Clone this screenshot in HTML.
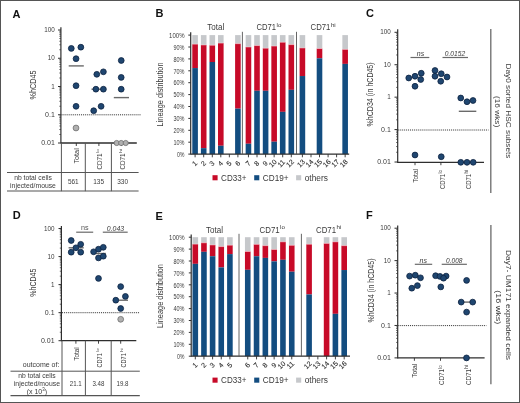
<!DOCTYPE html>
<html><head><meta charset="utf-8"><style>
html,body{margin:0;padding:0;background:#fff;overflow:hidden;}
svg{display:block;font-family:"Liberation Sans", sans-serif;will-change:transform;}
</style></head><body>
<svg width="520" height="403" viewBox="0 0 520 403">
<rect width="520" height="403" fill="#fff"/>
<rect x="0.5" y="0.5" width="519" height="402" fill="none" stroke="#555" stroke-width="1"/>
<text x="12.50" y="17.60" font-size="11" text-anchor="start" fill="#111" font-weight="bold">A</text>
<text x="155.40" y="17.40" font-size="11" text-anchor="start" fill="#111" font-weight="bold">B</text>
<text x="366.00" y="17.40" font-size="11" text-anchor="start" fill="#111" font-weight="bold">C</text>
<text x="12.80" y="219.30" font-size="11" text-anchor="start" fill="#111" font-weight="bold">D</text>
<text x="155.40" y="219.50" font-size="11" text-anchor="start" fill="#111" font-weight="bold">E</text>
<text x="366.00" y="219.00" font-size="11" text-anchor="start" fill="#111" font-weight="bold">F</text>
<line x1="60.90" y1="27.30" x2="60.90" y2="143.60" stroke="#2e2e2e" stroke-width="1.2" />
<line x1="58.00" y1="30.00" x2="60.90" y2="30.00" stroke="#2e2e2e" stroke-width="1" />
<text x="54.80" y="32.17" font-size="7" text-anchor="end" fill="#3a3a3a" textLength="10.5" lengthAdjust="spacingAndGlyphs">100</text>
<line x1="58.00" y1="58.25" x2="60.90" y2="58.25" stroke="#2e2e2e" stroke-width="1" />
<text x="54.80" y="60.42" font-size="7" text-anchor="end" fill="#3a3a3a" textLength="7.0" lengthAdjust="spacingAndGlyphs">10</text>
<line x1="58.00" y1="86.50" x2="60.90" y2="86.50" stroke="#2e2e2e" stroke-width="1" />
<text x="54.80" y="88.67" font-size="7" text-anchor="end" fill="#3a3a3a" textLength="3.5" lengthAdjust="spacingAndGlyphs">1</text>
<line x1="58.00" y1="114.75" x2="60.90" y2="114.75" stroke="#2e2e2e" stroke-width="1" />
<text x="54.80" y="116.92" font-size="7" text-anchor="end" fill="#3a3a3a">0.1</text>
<line x1="58.00" y1="143.00" x2="60.90" y2="143.00" stroke="#2e2e2e" stroke-width="1" />
<text x="54.80" y="145.17" font-size="7" text-anchor="end" fill="#3a3a3a">0.01</text>
<line x1="59.30" y1="49.75" x2="60.90" y2="49.75" stroke="#2e2e2e" stroke-width="0.7" />
<line x1="59.30" y1="44.77" x2="60.90" y2="44.77" stroke="#2e2e2e" stroke-width="0.7" />
<line x1="59.30" y1="41.24" x2="60.90" y2="41.24" stroke="#2e2e2e" stroke-width="0.7" />
<line x1="59.30" y1="38.50" x2="60.90" y2="38.50" stroke="#2e2e2e" stroke-width="0.7" />
<line x1="59.30" y1="36.27" x2="60.90" y2="36.27" stroke="#2e2e2e" stroke-width="0.7" />
<line x1="59.30" y1="34.38" x2="60.90" y2="34.38" stroke="#2e2e2e" stroke-width="0.7" />
<line x1="59.30" y1="32.74" x2="60.90" y2="32.74" stroke="#2e2e2e" stroke-width="0.7" />
<line x1="59.30" y1="31.29" x2="60.90" y2="31.29" stroke="#2e2e2e" stroke-width="0.7" />
<line x1="59.30" y1="78.00" x2="60.90" y2="78.00" stroke="#2e2e2e" stroke-width="0.7" />
<line x1="59.30" y1="73.02" x2="60.90" y2="73.02" stroke="#2e2e2e" stroke-width="0.7" />
<line x1="59.30" y1="69.49" x2="60.90" y2="69.49" stroke="#2e2e2e" stroke-width="0.7" />
<line x1="59.30" y1="66.75" x2="60.90" y2="66.75" stroke="#2e2e2e" stroke-width="0.7" />
<line x1="59.30" y1="64.52" x2="60.90" y2="64.52" stroke="#2e2e2e" stroke-width="0.7" />
<line x1="59.30" y1="62.63" x2="60.90" y2="62.63" stroke="#2e2e2e" stroke-width="0.7" />
<line x1="59.30" y1="60.99" x2="60.90" y2="60.99" stroke="#2e2e2e" stroke-width="0.7" />
<line x1="59.30" y1="59.54" x2="60.90" y2="59.54" stroke="#2e2e2e" stroke-width="0.7" />
<line x1="59.30" y1="106.25" x2="60.90" y2="106.25" stroke="#2e2e2e" stroke-width="0.7" />
<line x1="59.30" y1="101.27" x2="60.90" y2="101.27" stroke="#2e2e2e" stroke-width="0.7" />
<line x1="59.30" y1="97.74" x2="60.90" y2="97.74" stroke="#2e2e2e" stroke-width="0.7" />
<line x1="59.30" y1="95.00" x2="60.90" y2="95.00" stroke="#2e2e2e" stroke-width="0.7" />
<line x1="59.30" y1="92.77" x2="60.90" y2="92.77" stroke="#2e2e2e" stroke-width="0.7" />
<line x1="59.30" y1="90.88" x2="60.90" y2="90.88" stroke="#2e2e2e" stroke-width="0.7" />
<line x1="59.30" y1="89.24" x2="60.90" y2="89.24" stroke="#2e2e2e" stroke-width="0.7" />
<line x1="59.30" y1="87.79" x2="60.90" y2="87.79" stroke="#2e2e2e" stroke-width="0.7" />
<line x1="59.30" y1="134.50" x2="60.90" y2="134.50" stroke="#2e2e2e" stroke-width="0.7" />
<line x1="59.30" y1="129.52" x2="60.90" y2="129.52" stroke="#2e2e2e" stroke-width="0.7" />
<line x1="59.30" y1="125.99" x2="60.90" y2="125.99" stroke="#2e2e2e" stroke-width="0.7" />
<line x1="59.30" y1="123.25" x2="60.90" y2="123.25" stroke="#2e2e2e" stroke-width="0.7" />
<line x1="59.30" y1="121.02" x2="60.90" y2="121.02" stroke="#2e2e2e" stroke-width="0.7" />
<line x1="59.30" y1="119.13" x2="60.90" y2="119.13" stroke="#2e2e2e" stroke-width="0.7" />
<line x1="59.30" y1="117.49" x2="60.90" y2="117.49" stroke="#2e2e2e" stroke-width="0.7" />
<line x1="59.30" y1="116.04" x2="60.90" y2="116.04" stroke="#2e2e2e" stroke-width="0.7" />
<line x1="60.90" y1="143.00" x2="136.80" y2="143.00" stroke="#2e2e2e" stroke-width="1.3" />
<line x1="61.50" y1="114.80" x2="141.20" y2="114.80" stroke="#333" stroke-width="1" stroke-dasharray="1 0.95"/>
<line x1="76.30" y1="143.00" x2="76.30" y2="146.00" stroke="#2e2e2e" stroke-width="0.9" />
<line x1="98.90" y1="143.00" x2="98.90" y2="146.00" stroke="#2e2e2e" stroke-width="0.9" />
<line x1="121.50" y1="143.00" x2="121.50" y2="146.00" stroke="#2e2e2e" stroke-width="0.9" />
<line x1="61.40" y1="143.00" x2="61.40" y2="191.20" stroke="#555" stroke-width="1" />
<line x1="85.30" y1="143.00" x2="85.30" y2="191.20" stroke="#555" stroke-width="1" />
<line x1="111.40" y1="143.00" x2="111.40" y2="191.20" stroke="#555" stroke-width="1" />
<line x1="7.00" y1="172.50" x2="138.60" y2="172.50" stroke="#555" stroke-width="1" />
<line x1="7.00" y1="191.00" x2="138.60" y2="191.00" stroke="#555" stroke-width="1.2" />
<text x="33.00" y="180.00" font-size="7.6" text-anchor="middle" fill="#3a3a3a" textLength="37.6" lengthAdjust="spacingAndGlyphs">nb total cells</text>
<text x="33.00" y="187.80" font-size="7.6" text-anchor="middle" fill="#3a3a3a" textLength="45.8" lengthAdjust="spacingAndGlyphs">injected/mouse</text>
<text x="73.30" y="184.00" font-size="7.6" text-anchor="middle" fill="#3a3a3a" textLength="10.8" lengthAdjust="spacingAndGlyphs">561</text>
<text x="98.60" y="184.00" font-size="7.6" text-anchor="middle" fill="#3a3a3a" textLength="10.8" lengthAdjust="spacingAndGlyphs">135</text>
<text x="122.60" y="184.00" font-size="7.6" text-anchor="middle" fill="#3a3a3a" textLength="10.8" lengthAdjust="spacingAndGlyphs">330</text>
<text x="79.28" y="148.20" font-size="8" text-anchor="end" fill="#3a3a3a" textLength="15.4" lengthAdjust="spacingAndGlyphs" transform="rotate(-90 79.28 148.20)">Total</text>
<text x="101.88" y="169.60" font-size="8" text-anchor="start" fill="#3a3a3a" textLength="16.0" lengthAdjust="spacingAndGlyphs" transform="rotate(-90 101.88 169.60)">CD71</text>
<text x="98.84" y="152.80" font-size="4.40" text-anchor="start" fill="#3a3a3a" transform="rotate(-90 98.84 152.80)">lo</text>
<text x="124.78" y="169.60" font-size="8" text-anchor="start" fill="#3a3a3a" textLength="16.0" lengthAdjust="spacingAndGlyphs" transform="rotate(-90 124.78 169.60)">CD71</text>
<text x="121.74" y="152.80" font-size="4.40" text-anchor="start" fill="#3a3a3a" transform="rotate(-90 121.74 152.80)">hi</text>
<text x="36.00" y="85.00" font-size="9.4" text-anchor="middle" fill="#3a3a3a" textLength="29" lengthAdjust="spacingAndGlyphs" transform="rotate(-90 36.00 85.00)">%hCD45</text>
<line x1="68.70" y1="65.90" x2="83.80" y2="65.90" stroke="#6a6a6a" stroke-width="1.4" />
<line x1="91.50" y1="89.20" x2="105.50" y2="89.20" stroke="#6a6a6a" stroke-width="1.4" />
<line x1="113.80" y1="97.60" x2="129.00" y2="97.60" stroke="#6a6a6a" stroke-width="1.4" />
<circle cx="71.30" cy="48.40" r="2.9" fill="#1f4670" stroke="#0c2240" stroke-width="0.8"/>
<circle cx="80.85" cy="47.20" r="2.9" fill="#1f4670" stroke="#0c2240" stroke-width="0.8"/>
<circle cx="76.05" cy="58.70" r="2.9" fill="#1f4670" stroke="#0c2240" stroke-width="0.8"/>
<circle cx="76.05" cy="85.70" r="2.9" fill="#1f4670" stroke="#0c2240" stroke-width="0.8"/>
<circle cx="76.05" cy="106.30" r="2.9" fill="#1f4670" stroke="#0c2240" stroke-width="0.8"/>
<circle cx="76.00" cy="128.00" r="2.9" fill="#b0b0b0" stroke="#6f6f6f" stroke-width="0.8"/>
<circle cx="96.80" cy="74.30" r="2.9" fill="#1f4670" stroke="#0c2240" stroke-width="0.8"/>
<circle cx="103.40" cy="71.80" r="2.9" fill="#1f4670" stroke="#0c2240" stroke-width="0.8"/>
<circle cx="95.90" cy="89.20" r="2.9" fill="#1f4670" stroke="#0c2240" stroke-width="0.8"/>
<circle cx="103.40" cy="89.20" r="2.9" fill="#1f4670" stroke="#0c2240" stroke-width="0.8"/>
<circle cx="101.10" cy="106.30" r="2.9" fill="#1f4670" stroke="#0c2240" stroke-width="0.8"/>
<circle cx="93.70" cy="110.70" r="2.9" fill="#1f4670" stroke="#0c2240" stroke-width="0.8"/>
<circle cx="121.25" cy="60.50" r="2.9" fill="#1f4670" stroke="#0c2240" stroke-width="0.8"/>
<circle cx="121.20" cy="77.40" r="2.9" fill="#1f4670" stroke="#0c2240" stroke-width="0.8"/>
<circle cx="121.20" cy="89.20" r="2.9" fill="#1f4670" stroke="#0c2240" stroke-width="0.8"/>
<circle cx="116.70" cy="143.00" r="2.6" fill="#b0b0b0" stroke="#6f6f6f" stroke-width="0.8"/>
<circle cx="121.20" cy="143.00" r="2.6" fill="#b0b0b0" stroke="#6f6f6f" stroke-width="0.8"/>
<circle cx="125.70" cy="143.00" r="2.6" fill="#b0b0b0" stroke="#6f6f6f" stroke-width="0.8"/>
<line x1="61.40" y1="226.00" x2="61.40" y2="341.20" stroke="#2e2e2e" stroke-width="1.2" />
<line x1="58.50" y1="228.50" x2="61.40" y2="228.50" stroke="#2e2e2e" stroke-width="1" />
<text x="54.60" y="230.67" font-size="7" text-anchor="end" fill="#3a3a3a" textLength="10.5" lengthAdjust="spacingAndGlyphs">100</text>
<line x1="58.50" y1="256.55" x2="61.40" y2="256.55" stroke="#2e2e2e" stroke-width="1" />
<text x="54.60" y="258.72" font-size="7" text-anchor="end" fill="#3a3a3a" textLength="7.0" lengthAdjust="spacingAndGlyphs">10</text>
<line x1="58.50" y1="284.60" x2="61.40" y2="284.60" stroke="#2e2e2e" stroke-width="1" />
<text x="54.60" y="286.77" font-size="7" text-anchor="end" fill="#3a3a3a" textLength="3.5" lengthAdjust="spacingAndGlyphs">1</text>
<line x1="58.50" y1="312.65" x2="61.40" y2="312.65" stroke="#2e2e2e" stroke-width="1" />
<text x="54.60" y="314.82" font-size="7" text-anchor="end" fill="#3a3a3a">0.1</text>
<line x1="58.50" y1="340.70" x2="61.40" y2="340.70" stroke="#2e2e2e" stroke-width="1" />
<text x="54.60" y="342.87" font-size="7" text-anchor="end" fill="#3a3a3a">0.01</text>
<line x1="59.80" y1="248.11" x2="61.40" y2="248.11" stroke="#2e2e2e" stroke-width="0.7" />
<line x1="59.80" y1="243.17" x2="61.40" y2="243.17" stroke="#2e2e2e" stroke-width="0.7" />
<line x1="59.80" y1="239.66" x2="61.40" y2="239.66" stroke="#2e2e2e" stroke-width="0.7" />
<line x1="59.80" y1="236.94" x2="61.40" y2="236.94" stroke="#2e2e2e" stroke-width="0.7" />
<line x1="59.80" y1="234.72" x2="61.40" y2="234.72" stroke="#2e2e2e" stroke-width="0.7" />
<line x1="59.80" y1="232.84" x2="61.40" y2="232.84" stroke="#2e2e2e" stroke-width="0.7" />
<line x1="59.80" y1="231.22" x2="61.40" y2="231.22" stroke="#2e2e2e" stroke-width="0.7" />
<line x1="59.80" y1="229.78" x2="61.40" y2="229.78" stroke="#2e2e2e" stroke-width="0.7" />
<line x1="59.80" y1="276.16" x2="61.40" y2="276.16" stroke="#2e2e2e" stroke-width="0.7" />
<line x1="59.80" y1="271.22" x2="61.40" y2="271.22" stroke="#2e2e2e" stroke-width="0.7" />
<line x1="59.80" y1="267.71" x2="61.40" y2="267.71" stroke="#2e2e2e" stroke-width="0.7" />
<line x1="59.80" y1="264.99" x2="61.40" y2="264.99" stroke="#2e2e2e" stroke-width="0.7" />
<line x1="59.80" y1="262.77" x2="61.40" y2="262.77" stroke="#2e2e2e" stroke-width="0.7" />
<line x1="59.80" y1="260.89" x2="61.40" y2="260.89" stroke="#2e2e2e" stroke-width="0.7" />
<line x1="59.80" y1="259.27" x2="61.40" y2="259.27" stroke="#2e2e2e" stroke-width="0.7" />
<line x1="59.80" y1="257.83" x2="61.40" y2="257.83" stroke="#2e2e2e" stroke-width="0.7" />
<line x1="59.80" y1="304.21" x2="61.40" y2="304.21" stroke="#2e2e2e" stroke-width="0.7" />
<line x1="59.80" y1="299.27" x2="61.40" y2="299.27" stroke="#2e2e2e" stroke-width="0.7" />
<line x1="59.80" y1="295.76" x2="61.40" y2="295.76" stroke="#2e2e2e" stroke-width="0.7" />
<line x1="59.80" y1="293.04" x2="61.40" y2="293.04" stroke="#2e2e2e" stroke-width="0.7" />
<line x1="59.80" y1="290.82" x2="61.40" y2="290.82" stroke="#2e2e2e" stroke-width="0.7" />
<line x1="59.80" y1="288.94" x2="61.40" y2="288.94" stroke="#2e2e2e" stroke-width="0.7" />
<line x1="59.80" y1="287.32" x2="61.40" y2="287.32" stroke="#2e2e2e" stroke-width="0.7" />
<line x1="59.80" y1="285.88" x2="61.40" y2="285.88" stroke="#2e2e2e" stroke-width="0.7" />
<line x1="59.80" y1="332.26" x2="61.40" y2="332.26" stroke="#2e2e2e" stroke-width="0.7" />
<line x1="59.80" y1="327.32" x2="61.40" y2="327.32" stroke="#2e2e2e" stroke-width="0.7" />
<line x1="59.80" y1="323.81" x2="61.40" y2="323.81" stroke="#2e2e2e" stroke-width="0.7" />
<line x1="59.80" y1="321.09" x2="61.40" y2="321.09" stroke="#2e2e2e" stroke-width="0.7" />
<line x1="59.80" y1="318.87" x2="61.40" y2="318.87" stroke="#2e2e2e" stroke-width="0.7" />
<line x1="59.80" y1="316.99" x2="61.40" y2="316.99" stroke="#2e2e2e" stroke-width="0.7" />
<line x1="59.80" y1="315.37" x2="61.40" y2="315.37" stroke="#2e2e2e" stroke-width="0.7" />
<line x1="59.80" y1="313.93" x2="61.40" y2="313.93" stroke="#2e2e2e" stroke-width="0.7" />
<line x1="61.40" y1="340.70" x2="136.30" y2="340.70" stroke="#2e2e2e" stroke-width="1.3" />
<line x1="62.00" y1="312.70" x2="139.60" y2="312.70" stroke="#333" stroke-width="1" stroke-dasharray="1 0.95"/>
<line x1="75.90" y1="340.70" x2="75.90" y2="343.70" stroke="#2e2e2e" stroke-width="0.9" />
<line x1="98.50" y1="340.70" x2="98.50" y2="343.70" stroke="#2e2e2e" stroke-width="0.9" />
<line x1="120.70" y1="340.70" x2="120.70" y2="343.70" stroke="#2e2e2e" stroke-width="0.9" />
<line x1="62.00" y1="340.70" x2="62.00" y2="396.00" stroke="#555" stroke-width="1" />
<line x1="85.40" y1="340.70" x2="85.40" y2="396.00" stroke="#555" stroke-width="1" />
<line x1="111.20" y1="340.70" x2="111.20" y2="396.00" stroke="#555" stroke-width="1" />
<line x1="10.50" y1="371.20" x2="139.80" y2="371.20" stroke="#555" stroke-width="1" />
<line x1="10.50" y1="395.70" x2="139.80" y2="395.70" stroke="#555" stroke-width="1.2" />
<text x="59.40" y="366.50" font-size="7.6" text-anchor="end" fill="#3a3a3a" textLength="36.6" lengthAdjust="spacingAndGlyphs">outcome of:</text>
<text x="37.00" y="378.40" font-size="7.6" text-anchor="middle" fill="#3a3a3a" textLength="37.5" lengthAdjust="spacingAndGlyphs">nb total cells</text>
<text x="36.90" y="386.30" font-size="7.6" text-anchor="middle" fill="#3a3a3a" textLength="46.1" lengthAdjust="spacingAndGlyphs">injected/mouse</text>
<text x="36.90" y="393.90" font-size="7" text-anchor="middle" fill="#3a3a3a">(x 10<tspan font-size="4.5" dy="-2.5">3</tspan><tspan dy="2.5">)</tspan></text>
<text x="75.80" y="385.80" font-size="7.6" text-anchor="middle" fill="#3a3a3a" textLength="12" lengthAdjust="spacingAndGlyphs">21.1</text>
<text x="98.40" y="385.80" font-size="7.6" text-anchor="middle" fill="#3a3a3a" textLength="12" lengthAdjust="spacingAndGlyphs">3.48</text>
<text x="122.50" y="385.80" font-size="7.6" text-anchor="middle" fill="#3a3a3a" textLength="12" lengthAdjust="spacingAndGlyphs">19.8</text>
<text x="78.68" y="347.20" font-size="8" text-anchor="end" fill="#3a3a3a" textLength="13.6" lengthAdjust="spacingAndGlyphs" transform="rotate(-90 78.68 347.20)">Total</text>
<text x="102.18" y="367.50" font-size="8" text-anchor="start" fill="#3a3a3a" textLength="14.300000000000011" lengthAdjust="spacingAndGlyphs" transform="rotate(-90 102.18 367.50)">CD71</text>
<text x="99.14" y="351.70" font-size="4.16" text-anchor="start" fill="#3a3a3a" transform="rotate(-90 99.14 351.70)">lo</text>
<text x="125.68" y="367.50" font-size="8" text-anchor="start" fill="#3a3a3a" textLength="14.300000000000011" lengthAdjust="spacingAndGlyphs" transform="rotate(-90 125.68 367.50)">CD71</text>
<text x="122.64" y="351.70" font-size="4.16" text-anchor="start" fill="#3a3a3a" transform="rotate(-90 122.64 351.70)">hi</text>
<text x="36.20" y="282.70" font-size="9.4" text-anchor="middle" fill="#3a3a3a" textLength="28" lengthAdjust="spacingAndGlyphs" transform="rotate(-90 36.20 282.70)">%hCD45</text>
<text x="84.90" y="230.40" font-size="7.2" text-anchor="middle" fill="#555">ns</text>
<line x1="76.20" y1="232.20" x2="93.20" y2="232.20" stroke="#6a6a6a" stroke-width="1.2" />
<text x="115.50" y="230.60" font-size="7" text-anchor="middle" fill="#3a3a3a" textLength="17.4" lengthAdjust="spacingAndGlyphs" style="font-style:italic">0.043</text>
<line x1="102.80" y1="232.20" x2="127.70" y2="232.20" stroke="#6a6a6a" stroke-width="1.2" />
<line x1="68.60" y1="247.80" x2="83.70" y2="247.80" stroke="#6a6a6a" stroke-width="1.4" />
<line x1="95.80" y1="253.50" x2="105.90" y2="253.50" stroke="#6a6a6a" stroke-width="1.4" />
<line x1="118.40" y1="300.20" x2="128.00" y2="300.20" stroke="#6a6a6a" stroke-width="1.4" />
<circle cx="71.20" cy="240.50" r="2.9" fill="#1f4670" stroke="#0c2240" stroke-width="0.8"/>
<circle cx="80.70" cy="244.30" r="2.9" fill="#1f4670" stroke="#0c2240" stroke-width="0.8"/>
<circle cx="75.90" cy="247.80" r="2.9" fill="#1f4670" stroke="#0c2240" stroke-width="0.8"/>
<circle cx="71.20" cy="252.20" r="2.9" fill="#1f4670" stroke="#0c2240" stroke-width="0.8"/>
<circle cx="80.70" cy="252.20" r="2.9" fill="#1f4670" stroke="#0c2240" stroke-width="0.8"/>
<circle cx="93.60" cy="251.80" r="2.9" fill="#1f4670" stroke="#0c2240" stroke-width="0.8"/>
<circle cx="98.50" cy="249.20" r="2.9" fill="#1f4670" stroke="#0c2240" stroke-width="0.8"/>
<circle cx="103.30" cy="247.30" r="2.9" fill="#1f4670" stroke="#0c2240" stroke-width="0.8"/>
<circle cx="98.50" cy="257.90" r="2.9" fill="#1f4670" stroke="#0c2240" stroke-width="0.8"/>
<circle cx="103.30" cy="256.20" r="2.9" fill="#1f4670" stroke="#0c2240" stroke-width="0.8"/>
<circle cx="98.50" cy="278.40" r="2.9" fill="#1f4670" stroke="#0c2240" stroke-width="0.8"/>
<circle cx="120.70" cy="286.60" r="2.9" fill="#1f4670" stroke="#0c2240" stroke-width="0.8"/>
<circle cx="125.40" cy="296.40" r="2.9" fill="#1f4670" stroke="#0c2240" stroke-width="0.8"/>
<circle cx="115.80" cy="300.20" r="2.9" fill="#1f4670" stroke="#0c2240" stroke-width="0.8"/>
<circle cx="120.70" cy="308.50" r="2.9" fill="#1f4670" stroke="#0c2240" stroke-width="0.8"/>
<circle cx="120.70" cy="319.30" r="2.9" fill="#b0b0b0" stroke="#6f6f6f" stroke-width="0.8"/>
<line x1="397.70" y1="29.20" x2="397.70" y2="162.90" stroke="#2e2e2e" stroke-width="1.2" />
<line x1="394.50" y1="32.30" x2="397.70" y2="32.30" stroke="#2e2e2e" stroke-width="1" />
<text x="390.80" y="34.47" font-size="7" text-anchor="end" fill="#3a3a3a" textLength="10.5" lengthAdjust="spacingAndGlyphs">100</text>
<line x1="394.50" y1="64.73" x2="397.70" y2="64.73" stroke="#2e2e2e" stroke-width="1" />
<text x="390.80" y="66.90" font-size="7" text-anchor="end" fill="#3a3a3a" textLength="7.0" lengthAdjust="spacingAndGlyphs">10</text>
<line x1="394.50" y1="97.16" x2="397.70" y2="97.16" stroke="#2e2e2e" stroke-width="1" />
<text x="390.80" y="99.33" font-size="7" text-anchor="end" fill="#3a3a3a" textLength="3.5" lengthAdjust="spacingAndGlyphs">1</text>
<line x1="394.50" y1="129.59" x2="397.70" y2="129.59" stroke="#2e2e2e" stroke-width="1" />
<text x="390.80" y="131.76" font-size="7" text-anchor="end" fill="#3a3a3a">0.1</text>
<line x1="394.50" y1="162.02" x2="397.70" y2="162.02" stroke="#2e2e2e" stroke-width="1" />
<text x="390.80" y="164.19" font-size="7" text-anchor="end" fill="#3a3a3a">0.01</text>
<line x1="396.10" y1="54.97" x2="397.70" y2="54.97" stroke="#2e2e2e" stroke-width="0.7" />
<line x1="396.10" y1="49.26" x2="397.70" y2="49.26" stroke="#2e2e2e" stroke-width="0.7" />
<line x1="396.10" y1="45.21" x2="397.70" y2="45.21" stroke="#2e2e2e" stroke-width="0.7" />
<line x1="396.10" y1="42.06" x2="397.70" y2="42.06" stroke="#2e2e2e" stroke-width="0.7" />
<line x1="396.10" y1="39.49" x2="397.70" y2="39.49" stroke="#2e2e2e" stroke-width="0.7" />
<line x1="396.10" y1="37.32" x2="397.70" y2="37.32" stroke="#2e2e2e" stroke-width="0.7" />
<line x1="396.10" y1="35.44" x2="397.70" y2="35.44" stroke="#2e2e2e" stroke-width="0.7" />
<line x1="396.10" y1="33.78" x2="397.70" y2="33.78" stroke="#2e2e2e" stroke-width="0.7" />
<line x1="396.10" y1="87.40" x2="397.70" y2="87.40" stroke="#2e2e2e" stroke-width="0.7" />
<line x1="396.10" y1="81.69" x2="397.70" y2="81.69" stroke="#2e2e2e" stroke-width="0.7" />
<line x1="396.10" y1="77.64" x2="397.70" y2="77.64" stroke="#2e2e2e" stroke-width="0.7" />
<line x1="396.10" y1="74.49" x2="397.70" y2="74.49" stroke="#2e2e2e" stroke-width="0.7" />
<line x1="396.10" y1="71.92" x2="397.70" y2="71.92" stroke="#2e2e2e" stroke-width="0.7" />
<line x1="396.10" y1="69.75" x2="397.70" y2="69.75" stroke="#2e2e2e" stroke-width="0.7" />
<line x1="396.10" y1="67.87" x2="397.70" y2="67.87" stroke="#2e2e2e" stroke-width="0.7" />
<line x1="396.10" y1="66.21" x2="397.70" y2="66.21" stroke="#2e2e2e" stroke-width="0.7" />
<line x1="396.10" y1="119.83" x2="397.70" y2="119.83" stroke="#2e2e2e" stroke-width="0.7" />
<line x1="396.10" y1="114.12" x2="397.70" y2="114.12" stroke="#2e2e2e" stroke-width="0.7" />
<line x1="396.10" y1="110.07" x2="397.70" y2="110.07" stroke="#2e2e2e" stroke-width="0.7" />
<line x1="396.10" y1="106.92" x2="397.70" y2="106.92" stroke="#2e2e2e" stroke-width="0.7" />
<line x1="396.10" y1="104.35" x2="397.70" y2="104.35" stroke="#2e2e2e" stroke-width="0.7" />
<line x1="396.10" y1="102.18" x2="397.70" y2="102.18" stroke="#2e2e2e" stroke-width="0.7" />
<line x1="396.10" y1="100.30" x2="397.70" y2="100.30" stroke="#2e2e2e" stroke-width="0.7" />
<line x1="396.10" y1="98.64" x2="397.70" y2="98.64" stroke="#2e2e2e" stroke-width="0.7" />
<line x1="396.10" y1="152.26" x2="397.70" y2="152.26" stroke="#2e2e2e" stroke-width="0.7" />
<line x1="396.10" y1="146.55" x2="397.70" y2="146.55" stroke="#2e2e2e" stroke-width="0.7" />
<line x1="396.10" y1="142.50" x2="397.70" y2="142.50" stroke="#2e2e2e" stroke-width="0.7" />
<line x1="396.10" y1="139.35" x2="397.70" y2="139.35" stroke="#2e2e2e" stroke-width="0.7" />
<line x1="396.10" y1="136.78" x2="397.70" y2="136.78" stroke="#2e2e2e" stroke-width="0.7" />
<line x1="396.10" y1="134.61" x2="397.70" y2="134.61" stroke="#2e2e2e" stroke-width="0.7" />
<line x1="396.10" y1="132.73" x2="397.70" y2="132.73" stroke="#2e2e2e" stroke-width="0.7" />
<line x1="396.10" y1="131.07" x2="397.70" y2="131.07" stroke="#2e2e2e" stroke-width="0.7" />
<line x1="397.70" y1="162.30" x2="484.00" y2="162.30" stroke="#2e2e2e" stroke-width="1.3" />
<line x1="398.30" y1="130.00" x2="488.50" y2="130.00" stroke="#333" stroke-width="1" stroke-dasharray="1 0.95"/>
<line x1="415.00" y1="162.30" x2="415.00" y2="165.20" stroke="#2e2e2e" stroke-width="0.9" />
<line x1="440.90" y1="162.30" x2="440.90" y2="165.20" stroke="#2e2e2e" stroke-width="0.9" />
<line x1="467.00" y1="162.30" x2="467.00" y2="165.20" stroke="#2e2e2e" stroke-width="0.9" />
<text x="417.50" y="169.00" font-size="7.5" text-anchor="end" fill="#3a3a3a" textLength="13.8" lengthAdjust="spacingAndGlyphs" transform="rotate(-90 417.50 169.00)">Total</text>
<text x="444.70" y="189.00" font-size="7.5" text-anchor="start" fill="#3a3a3a" textLength="15.099999999999994" lengthAdjust="spacingAndGlyphs" transform="rotate(-90 444.70 189.00)">CD71</text>
<text x="441.85" y="173.60" font-size="4.50" text-anchor="start" fill="#3a3a3a" transform="rotate(-90 441.85 173.60)">lo</text>
<text x="470.90" y="189.00" font-size="7.5" text-anchor="start" fill="#3a3a3a" textLength="15.099999999999994" lengthAdjust="spacingAndGlyphs" transform="rotate(-90 470.90 189.00)">CD71</text>
<text x="468.05" y="173.60" font-size="4.50" text-anchor="start" fill="#3a3a3a" transform="rotate(-90 468.05 173.60)">hi</text>
<text x="373.50" y="94.40" font-size="8.4" text-anchor="middle" fill="#3a3a3a" textLength="64" lengthAdjust="spacingAndGlyphs" transform="rotate(-90 373.50 94.40)">%hCD34 (in hCD45)</text>
<text x="420.50" y="56.00" font-size="7" text-anchor="middle" fill="#3a3a3a" style="font-style:italic">ns</text>
<line x1="410.50" y1="57.50" x2="429.30" y2="57.50" stroke="#6a6a6a" stroke-width="1.2" />
<text x="455.00" y="56.00" font-size="7" text-anchor="middle" fill="#3a3a3a" textLength="20.5" lengthAdjust="spacingAndGlyphs" style="font-style:italic">0.0152</text>
<line x1="442.50" y1="57.50" x2="468.00" y2="57.50" stroke="#6a6a6a" stroke-width="1.2" />
<line x1="458.80" y1="111.30" x2="476.30" y2="111.30" stroke="#6a6a6a" stroke-width="1.4" />
<circle cx="408.75" cy="78.00" r="2.9" fill="#1f4670" stroke="#0c2240" stroke-width="0.8"/>
<circle cx="415.00" cy="76.25" r="2.9" fill="#1f4670" stroke="#0c2240" stroke-width="0.8"/>
<circle cx="421.25" cy="73.25" r="2.9" fill="#1f4670" stroke="#0c2240" stroke-width="0.8"/>
<circle cx="420.75" cy="79.50" r="2.9" fill="#1f4670" stroke="#0c2240" stroke-width="0.8"/>
<circle cx="415.00" cy="86.25" r="2.9" fill="#1f4670" stroke="#0c2240" stroke-width="0.8"/>
<circle cx="435.00" cy="70.50" r="2.9" fill="#1f4670" stroke="#0c2240" stroke-width="0.8"/>
<circle cx="435.00" cy="76.25" r="2.9" fill="#1f4670" stroke="#0c2240" stroke-width="0.8"/>
<circle cx="441.25" cy="73.75" r="2.9" fill="#1f4670" stroke="#0c2240" stroke-width="0.8"/>
<circle cx="440.75" cy="81.25" r="2.9" fill="#1f4670" stroke="#0c2240" stroke-width="0.8"/>
<circle cx="447.00" cy="77.00" r="2.9" fill="#1f4670" stroke="#0c2240" stroke-width="0.8"/>
<circle cx="460.75" cy="98.00" r="2.9" fill="#1f4670" stroke="#0c2240" stroke-width="0.8"/>
<circle cx="467.00" cy="101.75" r="2.9" fill="#1f4670" stroke="#0c2240" stroke-width="0.8"/>
<circle cx="473.00" cy="100.50" r="2.9" fill="#1f4670" stroke="#0c2240" stroke-width="0.8"/>
<circle cx="415.00" cy="155.00" r="2.9" fill="#1f4670" stroke="#0c2240" stroke-width="0.8"/>
<circle cx="441.25" cy="156.75" r="2.9" fill="#1f4670" stroke="#0c2240" stroke-width="0.8"/>
<circle cx="460.80" cy="162.30" r="2.9" fill="#1f4670" stroke="#0c2240" stroke-width="0.8"/>
<circle cx="467.00" cy="162.30" r="2.9" fill="#1f4670" stroke="#0c2240" stroke-width="0.8"/>
<circle cx="473.20" cy="162.30" r="2.9" fill="#1f4670" stroke="#0c2240" stroke-width="0.8"/>
<line x1="490.80" y1="28.90" x2="490.80" y2="193.00" stroke="#6a6a6a" stroke-width="1.3" />
<text x="505.80" y="111.00" font-size="8.0" text-anchor="middle" fill="#3a3a3a" textLength="95" lengthAdjust="spacingAndGlyphs" transform="rotate(90 505.80 111.00)">Day0 sorted HSC subsets</text>
<text x="494.80" y="111.60" font-size="8.0" text-anchor="middle" fill="#3a3a3a" textLength="31.3" lengthAdjust="spacingAndGlyphs" transform="rotate(90 494.80 111.60)">(16 wks)</text>
<line x1="397.70" y1="225.50" x2="397.70" y2="358.40" stroke="#2e2e2e" stroke-width="1.2" />
<line x1="394.50" y1="228.20" x2="397.70" y2="228.20" stroke="#2e2e2e" stroke-width="1" />
<text x="390.80" y="230.37" font-size="7" text-anchor="end" fill="#3a3a3a" textLength="10.5" lengthAdjust="spacingAndGlyphs">100</text>
<line x1="394.50" y1="260.62" x2="397.70" y2="260.62" stroke="#2e2e2e" stroke-width="1" />
<text x="390.80" y="262.79" font-size="7" text-anchor="end" fill="#3a3a3a" textLength="7.0" lengthAdjust="spacingAndGlyphs">10</text>
<line x1="394.50" y1="293.04" x2="397.70" y2="293.04" stroke="#2e2e2e" stroke-width="1" />
<text x="390.80" y="295.21" font-size="7" text-anchor="end" fill="#3a3a3a" textLength="3.5" lengthAdjust="spacingAndGlyphs">1</text>
<line x1="394.50" y1="325.46" x2="397.70" y2="325.46" stroke="#2e2e2e" stroke-width="1" />
<text x="390.80" y="327.63" font-size="7" text-anchor="end" fill="#3a3a3a">0.1</text>
<line x1="394.50" y1="357.88" x2="397.70" y2="357.88" stroke="#2e2e2e" stroke-width="1" />
<text x="390.80" y="360.05" font-size="7" text-anchor="end" fill="#3a3a3a">0.01</text>
<line x1="396.10" y1="250.86" x2="397.70" y2="250.86" stroke="#2e2e2e" stroke-width="0.7" />
<line x1="396.10" y1="245.15" x2="397.70" y2="245.15" stroke="#2e2e2e" stroke-width="0.7" />
<line x1="396.10" y1="241.10" x2="397.70" y2="241.10" stroke="#2e2e2e" stroke-width="0.7" />
<line x1="396.10" y1="237.96" x2="397.70" y2="237.96" stroke="#2e2e2e" stroke-width="0.7" />
<line x1="396.10" y1="235.39" x2="397.70" y2="235.39" stroke="#2e2e2e" stroke-width="0.7" />
<line x1="396.10" y1="233.22" x2="397.70" y2="233.22" stroke="#2e2e2e" stroke-width="0.7" />
<line x1="396.10" y1="231.34" x2="397.70" y2="231.34" stroke="#2e2e2e" stroke-width="0.7" />
<line x1="396.10" y1="229.68" x2="397.70" y2="229.68" stroke="#2e2e2e" stroke-width="0.7" />
<line x1="396.10" y1="283.28" x2="397.70" y2="283.28" stroke="#2e2e2e" stroke-width="0.7" />
<line x1="396.10" y1="277.57" x2="397.70" y2="277.57" stroke="#2e2e2e" stroke-width="0.7" />
<line x1="396.10" y1="273.52" x2="397.70" y2="273.52" stroke="#2e2e2e" stroke-width="0.7" />
<line x1="396.10" y1="270.38" x2="397.70" y2="270.38" stroke="#2e2e2e" stroke-width="0.7" />
<line x1="396.10" y1="267.81" x2="397.70" y2="267.81" stroke="#2e2e2e" stroke-width="0.7" />
<line x1="396.10" y1="265.64" x2="397.70" y2="265.64" stroke="#2e2e2e" stroke-width="0.7" />
<line x1="396.10" y1="263.76" x2="397.70" y2="263.76" stroke="#2e2e2e" stroke-width="0.7" />
<line x1="396.10" y1="262.10" x2="397.70" y2="262.10" stroke="#2e2e2e" stroke-width="0.7" />
<line x1="396.10" y1="315.70" x2="397.70" y2="315.70" stroke="#2e2e2e" stroke-width="0.7" />
<line x1="396.10" y1="309.99" x2="397.70" y2="309.99" stroke="#2e2e2e" stroke-width="0.7" />
<line x1="396.10" y1="305.94" x2="397.70" y2="305.94" stroke="#2e2e2e" stroke-width="0.7" />
<line x1="396.10" y1="302.80" x2="397.70" y2="302.80" stroke="#2e2e2e" stroke-width="0.7" />
<line x1="396.10" y1="300.23" x2="397.70" y2="300.23" stroke="#2e2e2e" stroke-width="0.7" />
<line x1="396.10" y1="298.06" x2="397.70" y2="298.06" stroke="#2e2e2e" stroke-width="0.7" />
<line x1="396.10" y1="296.18" x2="397.70" y2="296.18" stroke="#2e2e2e" stroke-width="0.7" />
<line x1="396.10" y1="294.52" x2="397.70" y2="294.52" stroke="#2e2e2e" stroke-width="0.7" />
<line x1="396.10" y1="348.12" x2="397.70" y2="348.12" stroke="#2e2e2e" stroke-width="0.7" />
<line x1="396.10" y1="342.41" x2="397.70" y2="342.41" stroke="#2e2e2e" stroke-width="0.7" />
<line x1="396.10" y1="338.36" x2="397.70" y2="338.36" stroke="#2e2e2e" stroke-width="0.7" />
<line x1="396.10" y1="335.22" x2="397.70" y2="335.22" stroke="#2e2e2e" stroke-width="0.7" />
<line x1="396.10" y1="332.65" x2="397.70" y2="332.65" stroke="#2e2e2e" stroke-width="0.7" />
<line x1="396.10" y1="330.48" x2="397.70" y2="330.48" stroke="#2e2e2e" stroke-width="0.7" />
<line x1="396.10" y1="328.60" x2="397.70" y2="328.60" stroke="#2e2e2e" stroke-width="0.7" />
<line x1="396.10" y1="326.94" x2="397.70" y2="326.94" stroke="#2e2e2e" stroke-width="0.7" />
<line x1="397.70" y1="357.90" x2="484.60" y2="357.90" stroke="#2e2e2e" stroke-width="1.3" />
<line x1="398.30" y1="325.60" x2="486.40" y2="325.60" stroke="#333" stroke-width="1" stroke-dasharray="1 0.95"/>
<line x1="414.40" y1="357.90" x2="414.40" y2="360.80" stroke="#2e2e2e" stroke-width="0.9" />
<line x1="440.50" y1="357.90" x2="440.50" y2="360.80" stroke="#2e2e2e" stroke-width="0.9" />
<line x1="467.10" y1="357.90" x2="467.10" y2="360.80" stroke="#2e2e2e" stroke-width="0.9" />
<text x="417.50" y="363.90" font-size="7.5" text-anchor="end" fill="#3a3a3a" textLength="13.9" lengthAdjust="spacingAndGlyphs" transform="rotate(-90 417.50 363.90)">Total</text>
<text x="444.50" y="385.10" font-size="7.5" text-anchor="start" fill="#3a3a3a" textLength="16.100000000000023" lengthAdjust="spacingAndGlyphs" transform="rotate(-90 444.50 385.10)">CD71</text>
<text x="441.65" y="368.70" font-size="4.50" text-anchor="start" fill="#3a3a3a" transform="rotate(-90 441.65 368.70)">lo</text>
<text x="470.60" y="385.10" font-size="7.5" text-anchor="start" fill="#3a3a3a" textLength="16.100000000000023" lengthAdjust="spacingAndGlyphs" transform="rotate(-90 470.60 385.10)">CD71</text>
<text x="467.75" y="368.70" font-size="4.50" text-anchor="start" fill="#3a3a3a" transform="rotate(-90 467.75 368.70)">hi</text>
<text x="373.50" y="290.50" font-size="8.4" text-anchor="middle" fill="#3a3a3a" textLength="64" lengthAdjust="spacingAndGlyphs" transform="rotate(-90 373.50 290.50)">%hCD34 (in hCD45)</text>
<text x="423.30" y="262.80" font-size="7" text-anchor="middle" fill="#3a3a3a" style="font-style:italic">ns</text>
<line x1="414.80" y1="264.30" x2="432.20" y2="264.30" stroke="#6a6a6a" stroke-width="1.2" />
<text x="454.30" y="262.80" font-size="7" text-anchor="middle" fill="#3a3a3a" textLength="16.5" lengthAdjust="spacingAndGlyphs" style="font-style:italic">0.008</text>
<line x1="441.70" y1="264.30" x2="466.90" y2="264.30" stroke="#6a6a6a" stroke-width="1.2" />
<line x1="458.50" y1="302.10" x2="475.50" y2="302.10" stroke="#6a6a6a" stroke-width="1.4" />
<circle cx="409.60" cy="276.10" r="2.9" fill="#1f4670" stroke="#0c2240" stroke-width="0.8"/>
<circle cx="415.30" cy="275.20" r="2.9" fill="#1f4670" stroke="#0c2240" stroke-width="0.8"/>
<circle cx="420.50" cy="277.80" r="2.9" fill="#1f4670" stroke="#0c2240" stroke-width="0.8"/>
<circle cx="411.80" cy="288.20" r="2.9" fill="#1f4670" stroke="#0c2240" stroke-width="0.8"/>
<circle cx="417.40" cy="285.60" r="2.9" fill="#1f4670" stroke="#0c2240" stroke-width="0.8"/>
<circle cx="435.60" cy="275.70" r="2.9" fill="#1f4670" stroke="#0c2240" stroke-width="0.8"/>
<circle cx="440.00" cy="276.40" r="2.9" fill="#1f4670" stroke="#0c2240" stroke-width="0.8"/>
<circle cx="446.10" cy="276.10" r="2.9" fill="#1f4670" stroke="#0c2240" stroke-width="0.8"/>
<circle cx="443.50" cy="278.20" r="2.9" fill="#1f4670" stroke="#0c2240" stroke-width="0.8"/>
<circle cx="440.80" cy="286.90" r="2.9" fill="#1f4670" stroke="#0c2240" stroke-width="0.8"/>
<circle cx="466.60" cy="280.40" r="2.9" fill="#1f4670" stroke="#0c2240" stroke-width="0.8"/>
<circle cx="461.20" cy="302.10" r="2.9" fill="#1f4670" stroke="#0c2240" stroke-width="0.8"/>
<circle cx="472.70" cy="302.10" r="2.9" fill="#1f4670" stroke="#0c2240" stroke-width="0.8"/>
<circle cx="466.60" cy="312.10" r="2.9" fill="#1f4670" stroke="#0c2240" stroke-width="0.8"/>
<circle cx="466.50" cy="357.90" r="2.9" fill="#1f4670" stroke="#0c2240" stroke-width="0.8"/>
<line x1="490.90" y1="224.90" x2="490.90" y2="384.30" stroke="#6a6a6a" stroke-width="1.3" />
<text x="506.30" y="305.00" font-size="8.0" text-anchor="middle" fill="#3a3a3a" textLength="110" lengthAdjust="spacingAndGlyphs" transform="rotate(90 506.30 305.00)">Day7- UM171 expanded cells</text>
<text x="496.00" y="307.30" font-size="8.0" text-anchor="middle" fill="#3a3a3a" textLength="34" lengthAdjust="spacingAndGlyphs" transform="rotate(90 496.00 307.30)">(16 wks)</text>
<line x1="190.70" y1="32.20" x2="190.70" y2="154.60" stroke="#2e2e2e" stroke-width="1.2" />
<line x1="188.30" y1="154.10" x2="190.70" y2="154.10" stroke="#2e2e2e" stroke-width="1" />
<text x="184.50" y="156.80" font-size="7.6" text-anchor="end" fill="#3a3a3a" textLength="7.6" lengthAdjust="spacingAndGlyphs">0%</text>
<line x1="188.30" y1="142.20" x2="190.70" y2="142.20" stroke="#2e2e2e" stroke-width="1" />
<text x="184.50" y="144.90" font-size="7.6" text-anchor="end" fill="#3a3a3a" textLength="11.0" lengthAdjust="spacingAndGlyphs">10%</text>
<line x1="188.30" y1="130.30" x2="190.70" y2="130.30" stroke="#2e2e2e" stroke-width="1" />
<text x="184.50" y="133.00" font-size="7.6" text-anchor="end" fill="#3a3a3a" textLength="11.0" lengthAdjust="spacingAndGlyphs">20%</text>
<line x1="188.30" y1="118.40" x2="190.70" y2="118.40" stroke="#2e2e2e" stroke-width="1" />
<text x="184.50" y="121.10" font-size="7.6" text-anchor="end" fill="#3a3a3a" textLength="11.0" lengthAdjust="spacingAndGlyphs">30%</text>
<line x1="188.30" y1="106.50" x2="190.70" y2="106.50" stroke="#2e2e2e" stroke-width="1" />
<text x="184.50" y="109.20" font-size="7.6" text-anchor="end" fill="#3a3a3a" textLength="11.0" lengthAdjust="spacingAndGlyphs">40%</text>
<line x1="188.30" y1="94.60" x2="190.70" y2="94.60" stroke="#2e2e2e" stroke-width="1" />
<text x="184.50" y="97.30" font-size="7.6" text-anchor="end" fill="#3a3a3a" textLength="11.0" lengthAdjust="spacingAndGlyphs">50%</text>
<line x1="188.30" y1="82.70" x2="190.70" y2="82.70" stroke="#2e2e2e" stroke-width="1" />
<text x="184.50" y="85.40" font-size="7.6" text-anchor="end" fill="#3a3a3a" textLength="11.0" lengthAdjust="spacingAndGlyphs">60%</text>
<line x1="188.30" y1="70.80" x2="190.70" y2="70.80" stroke="#2e2e2e" stroke-width="1" />
<text x="184.50" y="73.50" font-size="7.6" text-anchor="end" fill="#3a3a3a" textLength="11.0" lengthAdjust="spacingAndGlyphs">70%</text>
<line x1="188.30" y1="58.90" x2="190.70" y2="58.90" stroke="#2e2e2e" stroke-width="1" />
<text x="184.50" y="61.60" font-size="7.6" text-anchor="end" fill="#3a3a3a" textLength="11.0" lengthAdjust="spacingAndGlyphs">80%</text>
<line x1="188.30" y1="47.00" x2="190.70" y2="47.00" stroke="#2e2e2e" stroke-width="1" />
<text x="184.50" y="49.70" font-size="7.6" text-anchor="end" fill="#3a3a3a" textLength="11.0" lengthAdjust="spacingAndGlyphs">90%</text>
<line x1="188.30" y1="35.10" x2="190.70" y2="35.10" stroke="#2e2e2e" stroke-width="1" />
<text x="184.50" y="37.80" font-size="7.6" text-anchor="end" fill="#3a3a3a" textLength="15.4" lengthAdjust="spacingAndGlyphs">100%</text>
<line x1="195.10" y1="154.10" x2="195.10" y2="157.30" stroke="#2e2e2e" stroke-width="0.9" />
<rect x="192.30" y="35.10" width="5.60" height="9.04" fill="#c6c8cb"/>
<rect x="192.30" y="44.14" width="5.60" height="23.92" fill="#c70a28"/>
<rect x="192.30" y="68.06" width="5.60" height="86.04" fill="#134d80"/>
<line x1="192.30" y1="44.14" x2="197.90" y2="44.14" stroke="#ffd9df" stroke-width="0.5" />
<line x1="203.70" y1="154.10" x2="203.70" y2="157.30" stroke="#2e2e2e" stroke-width="0.9" />
<rect x="200.90" y="35.10" width="5.60" height="9.88" fill="#c6c8cb"/>
<rect x="200.90" y="44.98" width="5.60" height="103.17" fill="#c70a28"/>
<rect x="200.90" y="148.15" width="5.60" height="5.95" fill="#134d80"/>
<line x1="200.90" y1="44.98" x2="206.50" y2="44.98" stroke="#ffd9df" stroke-width="0.5" />
<line x1="212.30" y1="154.10" x2="212.30" y2="157.30" stroke="#2e2e2e" stroke-width="0.9" />
<rect x="209.50" y="35.10" width="5.60" height="10.12" fill="#c6c8cb"/>
<rect x="209.50" y="45.22" width="5.60" height="16.78" fill="#c70a28"/>
<rect x="209.50" y="61.99" width="5.60" height="92.11" fill="#134d80"/>
<line x1="209.50" y1="45.22" x2="215.10" y2="45.22" stroke="#ffd9df" stroke-width="0.5" />
<line x1="220.80" y1="154.10" x2="220.80" y2="157.30" stroke="#2e2e2e" stroke-width="0.9" />
<rect x="218.00" y="35.10" width="5.60" height="7.97" fill="#c6c8cb"/>
<rect x="218.00" y="43.07" width="5.60" height="102.70" fill="#c70a28"/>
<rect x="218.00" y="145.77" width="5.60" height="8.33" fill="#134d80"/>
<line x1="218.00" y1="43.07" x2="223.60" y2="43.07" stroke="#ffd9df" stroke-width="0.5" />
<line x1="229.35" y1="154.10" x2="229.35" y2="157.30" stroke="#2e2e2e" stroke-width="0.9" />
<line x1="237.90" y1="154.10" x2="237.90" y2="157.30" stroke="#2e2e2e" stroke-width="0.9" />
<rect x="235.10" y="35.10" width="5.60" height="8.57" fill="#c6c8cb"/>
<rect x="235.10" y="43.67" width="5.60" height="64.97" fill="#c70a28"/>
<rect x="235.10" y="108.64" width="5.60" height="45.46" fill="#134d80"/>
<line x1="235.10" y1="43.67" x2="240.70" y2="43.67" stroke="#ffd9df" stroke-width="0.5" />
<line x1="248.45" y1="154.10" x2="248.45" y2="157.30" stroke="#2e2e2e" stroke-width="0.9" />
<rect x="245.65" y="35.10" width="5.60" height="11.90" fill="#c6c8cb"/>
<rect x="245.65" y="47.00" width="5.60" height="96.75" fill="#c70a28"/>
<rect x="245.65" y="143.75" width="5.60" height="10.35" fill="#134d80"/>
<line x1="245.65" y1="47.00" x2="251.25" y2="47.00" stroke="#ffd9df" stroke-width="0.5" />
<line x1="257.00" y1="154.10" x2="257.00" y2="157.30" stroke="#2e2e2e" stroke-width="0.9" />
<rect x="254.20" y="35.10" width="5.60" height="10.47" fill="#c6c8cb"/>
<rect x="254.20" y="45.57" width="5.60" height="45.22" fill="#c70a28"/>
<rect x="254.20" y="90.79" width="5.60" height="63.31" fill="#134d80"/>
<line x1="254.20" y1="45.57" x2="259.80" y2="45.57" stroke="#ffd9df" stroke-width="0.5" />
<line x1="265.60" y1="154.10" x2="265.60" y2="157.30" stroke="#2e2e2e" stroke-width="0.9" />
<rect x="262.80" y="35.10" width="5.60" height="13.09" fill="#c6c8cb"/>
<rect x="262.80" y="48.19" width="5.60" height="42.60" fill="#c70a28"/>
<rect x="262.80" y="90.79" width="5.60" height="63.31" fill="#134d80"/>
<line x1="262.80" y1="48.19" x2="268.40" y2="48.19" stroke="#ffd9df" stroke-width="0.5" />
<line x1="274.15" y1="154.10" x2="274.15" y2="157.30" stroke="#2e2e2e" stroke-width="0.9" />
<rect x="271.35" y="35.10" width="5.60" height="10.95" fill="#c6c8cb"/>
<rect x="271.35" y="46.05" width="5.60" height="95.68" fill="#c70a28"/>
<rect x="271.35" y="141.72" width="5.60" height="12.38" fill="#134d80"/>
<line x1="271.35" y1="46.05" x2="276.95" y2="46.05" stroke="#ffd9df" stroke-width="0.5" />
<line x1="282.70" y1="154.10" x2="282.70" y2="157.30" stroke="#2e2e2e" stroke-width="0.9" />
<rect x="279.90" y="35.10" width="5.60" height="7.14" fill="#c6c8cb"/>
<rect x="279.90" y="42.24" width="5.60" height="69.61" fill="#c70a28"/>
<rect x="279.90" y="111.85" width="5.60" height="42.24" fill="#134d80"/>
<line x1="279.90" y1="42.24" x2="285.50" y2="42.24" stroke="#ffd9df" stroke-width="0.5" />
<line x1="291.30" y1="154.10" x2="291.30" y2="157.30" stroke="#2e2e2e" stroke-width="0.9" />
<rect x="288.50" y="35.10" width="5.60" height="9.52" fill="#c6c8cb"/>
<rect x="288.50" y="44.62" width="5.60" height="45.22" fill="#c70a28"/>
<rect x="288.50" y="89.84" width="5.60" height="64.26" fill="#134d80"/>
<line x1="288.50" y1="44.62" x2="294.10" y2="44.62" stroke="#ffd9df" stroke-width="0.5" />
<line x1="302.40" y1="154.10" x2="302.40" y2="157.30" stroke="#2e2e2e" stroke-width="0.9" />
<rect x="299.60" y="35.10" width="5.60" height="12.85" fill="#c6c8cb"/>
<rect x="299.60" y="47.95" width="5.60" height="28.08" fill="#c70a28"/>
<rect x="299.60" y="76.04" width="5.60" height="78.06" fill="#134d80"/>
<line x1="299.60" y1="47.95" x2="305.20" y2="47.95" stroke="#ffd9df" stroke-width="0.5" />
<line x1="311.00" y1="154.10" x2="311.00" y2="157.30" stroke="#2e2e2e" stroke-width="0.9" />
<line x1="319.50" y1="154.10" x2="319.50" y2="157.30" stroke="#2e2e2e" stroke-width="0.9" />
<rect x="316.70" y="35.10" width="5.60" height="13.45" fill="#c6c8cb"/>
<rect x="316.70" y="48.55" width="5.60" height="9.76" fill="#c70a28"/>
<rect x="316.70" y="58.30" width="5.60" height="95.80" fill="#134d80"/>
<line x1="316.70" y1="48.55" x2="322.30" y2="48.55" stroke="#ffd9df" stroke-width="0.5" />
<line x1="328.10" y1="154.10" x2="328.10" y2="157.30" stroke="#2e2e2e" stroke-width="0.9" />
<line x1="336.60" y1="154.10" x2="336.60" y2="157.30" stroke="#2e2e2e" stroke-width="0.9" />
<line x1="345.15" y1="154.10" x2="345.15" y2="157.30" stroke="#2e2e2e" stroke-width="0.9" />
<rect x="342.35" y="35.10" width="5.60" height="14.28" fill="#c6c8cb"/>
<rect x="342.35" y="49.38" width="5.60" height="14.52" fill="#c70a28"/>
<rect x="342.35" y="63.90" width="5.60" height="90.20" fill="#134d80"/>
<line x1="342.35" y1="49.38" x2="347.95" y2="49.38" stroke="#ffd9df" stroke-width="0.5" />
<line x1="190.70" y1="154.10" x2="349.20" y2="154.10" stroke="#2e2e2e" stroke-width="1.3" />
<line x1="242.40" y1="31.80" x2="242.40" y2="154.10" stroke="#555" stroke-width="0.9" />
<line x1="296.50" y1="31.80" x2="296.50" y2="154.10" stroke="#555" stroke-width="0.9" />
<text x="207.20" y="30.40" font-size="8.8" text-anchor="start" fill="#3a3a3a" textLength="17" lengthAdjust="spacingAndGlyphs">Total</text>
<text x="256.60" y="30.40" font-size="8.8" text-anchor="start" fill="#3a3a3a" textLength="19.5" lengthAdjust="spacingAndGlyphs">CD71</text>
<text x="276.60" y="26.60" font-size="6.2" text-anchor="start" fill="#3a3a3a">lo</text>
<text x="310.60" y="30.40" font-size="8.8" text-anchor="start" fill="#3a3a3a" textLength="19.8" lengthAdjust="spacingAndGlyphs">CD71</text>
<text x="330.90" y="26.60" font-size="6.2" text-anchor="start" fill="#3a3a3a">hi</text>
<text x="194.70" y="165.80" font-size="7" text-anchor="middle" fill="#2a2a2a" stroke="#2a2a2a" stroke-width="0.1" transform="rotate(-45 194.70 163.30)">1</text>
<text x="203.30" y="165.80" font-size="7" text-anchor="middle" fill="#2a2a2a" stroke="#2a2a2a" stroke-width="0.1" transform="rotate(-45 203.30 163.30)">2</text>
<text x="211.90" y="165.80" font-size="7" text-anchor="middle" fill="#2a2a2a" stroke="#2a2a2a" stroke-width="0.1" transform="rotate(-45 211.90 163.30)">3</text>
<text x="220.40" y="165.80" font-size="7" text-anchor="middle" fill="#2a2a2a" stroke="#2a2a2a" stroke-width="0.1" transform="rotate(-45 220.40 163.30)">4</text>
<text x="228.95" y="165.80" font-size="7" text-anchor="middle" fill="#2a2a2a" stroke="#2a2a2a" stroke-width="0.1" transform="rotate(-45 228.95 163.30)">5</text>
<text x="237.50" y="165.80" font-size="7" text-anchor="middle" fill="#2a2a2a" stroke="#2a2a2a" stroke-width="0.1" transform="rotate(-45 237.50 163.30)">6</text>
<text x="248.05" y="165.80" font-size="7" text-anchor="middle" fill="#2a2a2a" stroke="#2a2a2a" stroke-width="0.1" transform="rotate(-45 248.05 163.30)">7</text>
<text x="256.60" y="165.80" font-size="7" text-anchor="middle" fill="#2a2a2a" stroke="#2a2a2a" stroke-width="0.1" transform="rotate(-45 256.60 163.30)">8</text>
<text x="265.20" y="165.80" font-size="7" text-anchor="middle" fill="#2a2a2a" stroke="#2a2a2a" stroke-width="0.1" transform="rotate(-45 265.20 163.30)">9</text>
<text x="272.75" y="165.80" font-size="7" text-anchor="middle" fill="#2a2a2a" stroke="#2a2a2a" stroke-width="0.1" transform="rotate(-45 272.75 163.30)">10</text>
<text x="281.30" y="165.80" font-size="7" text-anchor="middle" fill="#2a2a2a" stroke="#2a2a2a" stroke-width="0.1" transform="rotate(-45 281.30 163.30)">11</text>
<text x="289.90" y="165.80" font-size="7" text-anchor="middle" fill="#2a2a2a" stroke="#2a2a2a" stroke-width="0.1" transform="rotate(-45 289.90 163.30)">12</text>
<text x="301.00" y="165.80" font-size="7" text-anchor="middle" fill="#2a2a2a" stroke="#2a2a2a" stroke-width="0.1" transform="rotate(-45 301.00 163.30)">13</text>
<text x="309.60" y="165.80" font-size="7" text-anchor="middle" fill="#2a2a2a" stroke="#2a2a2a" stroke-width="0.1" transform="rotate(-45 309.60 163.30)">14</text>
<text x="318.10" y="165.80" font-size="7" text-anchor="middle" fill="#2a2a2a" stroke="#2a2a2a" stroke-width="0.1" transform="rotate(-45 318.10 163.30)">15</text>
<text x="326.70" y="165.80" font-size="7" text-anchor="middle" fill="#2a2a2a" stroke="#2a2a2a" stroke-width="0.1" transform="rotate(-45 326.70 163.30)">16</text>
<text x="335.20" y="165.80" font-size="7" text-anchor="middle" fill="#2a2a2a" stroke="#2a2a2a" stroke-width="0.1" transform="rotate(-45 335.20 163.30)">17</text>
<text x="343.75" y="165.80" font-size="7" text-anchor="middle" fill="#2a2a2a" stroke="#2a2a2a" stroke-width="0.1" transform="rotate(-45 343.75 163.30)">18</text>
<rect x="212.50" y="175.20" width="5.10" height="5.10" fill="#c70a28"/>
<text x="221.10" y="180.70" font-size="9.2" text-anchor="start" fill="#3a3a3a" textLength="25.3" lengthAdjust="spacingAndGlyphs">CD33+</text>
<rect x="254.20" y="175.20" width="5.10" height="5.10" fill="#134d80"/>
<text x="262.80" y="180.70" font-size="9.2" text-anchor="start" fill="#3a3a3a" textLength="25.8" lengthAdjust="spacingAndGlyphs">CD19+</text>
<rect x="296.10" y="175.20" width="5.10" height="5.10" fill="#c6c8cb"/>
<text x="304.70" y="180.70" font-size="9.2" text-anchor="start" fill="#3a3a3a" textLength="23.2" lengthAdjust="spacingAndGlyphs">others</text>
<text x="162.70" y="94.40" font-size="8.6" text-anchor="middle" fill="#3a3a3a" textLength="64.0" lengthAdjust="spacingAndGlyphs" transform="rotate(-90 162.70 94.40)">Lineage distribution</text>
<line x1="191.20" y1="234.50" x2="191.20" y2="356.70" stroke="#2e2e2e" stroke-width="1.2" />
<line x1="188.80" y1="356.20" x2="191.20" y2="356.20" stroke="#2e2e2e" stroke-width="1" />
<text x="184.50" y="358.90" font-size="7.6" text-anchor="end" fill="#3a3a3a" textLength="7.6" lengthAdjust="spacingAndGlyphs">0%</text>
<line x1="188.80" y1="344.30" x2="191.20" y2="344.30" stroke="#2e2e2e" stroke-width="1" />
<text x="184.50" y="347.00" font-size="7.6" text-anchor="end" fill="#3a3a3a" textLength="11.0" lengthAdjust="spacingAndGlyphs">10%</text>
<line x1="188.80" y1="332.40" x2="191.20" y2="332.40" stroke="#2e2e2e" stroke-width="1" />
<text x="184.50" y="335.10" font-size="7.6" text-anchor="end" fill="#3a3a3a" textLength="11.0" lengthAdjust="spacingAndGlyphs">20%</text>
<line x1="188.80" y1="320.50" x2="191.20" y2="320.50" stroke="#2e2e2e" stroke-width="1" />
<text x="184.50" y="323.20" font-size="7.6" text-anchor="end" fill="#3a3a3a" textLength="11.0" lengthAdjust="spacingAndGlyphs">30%</text>
<line x1="188.80" y1="308.60" x2="191.20" y2="308.60" stroke="#2e2e2e" stroke-width="1" />
<text x="184.50" y="311.30" font-size="7.6" text-anchor="end" fill="#3a3a3a" textLength="11.0" lengthAdjust="spacingAndGlyphs">40%</text>
<line x1="188.80" y1="296.70" x2="191.20" y2="296.70" stroke="#2e2e2e" stroke-width="1" />
<text x="184.50" y="299.40" font-size="7.6" text-anchor="end" fill="#3a3a3a" textLength="11.0" lengthAdjust="spacingAndGlyphs">50%</text>
<line x1="188.80" y1="284.80" x2="191.20" y2="284.80" stroke="#2e2e2e" stroke-width="1" />
<text x="184.50" y="287.50" font-size="7.6" text-anchor="end" fill="#3a3a3a" textLength="11.0" lengthAdjust="spacingAndGlyphs">60%</text>
<line x1="188.80" y1="272.90" x2="191.20" y2="272.90" stroke="#2e2e2e" stroke-width="1" />
<text x="184.50" y="275.60" font-size="7.6" text-anchor="end" fill="#3a3a3a" textLength="11.0" lengthAdjust="spacingAndGlyphs">70%</text>
<line x1="188.80" y1="261.00" x2="191.20" y2="261.00" stroke="#2e2e2e" stroke-width="1" />
<text x="184.50" y="263.70" font-size="7.6" text-anchor="end" fill="#3a3a3a" textLength="11.0" lengthAdjust="spacingAndGlyphs">80%</text>
<line x1="188.80" y1="249.10" x2="191.20" y2="249.10" stroke="#2e2e2e" stroke-width="1" />
<text x="184.50" y="251.80" font-size="7.6" text-anchor="end" fill="#3a3a3a" textLength="11.0" lengthAdjust="spacingAndGlyphs">90%</text>
<line x1="188.80" y1="237.20" x2="191.20" y2="237.20" stroke="#2e2e2e" stroke-width="1" />
<text x="184.50" y="239.90" font-size="7.6" text-anchor="end" fill="#3a3a3a" textLength="15.4" lengthAdjust="spacingAndGlyphs">100%</text>
<line x1="195.30" y1="356.20" x2="195.30" y2="359.40" stroke="#2e2e2e" stroke-width="0.9" />
<rect x="192.50" y="237.20" width="5.60" height="6.90" fill="#c6c8cb"/>
<rect x="192.50" y="244.10" width="5.60" height="19.75" fill="#c70a28"/>
<rect x="192.50" y="263.86" width="5.60" height="92.34" fill="#134d80"/>
<line x1="192.50" y1="244.10" x2="198.10" y2="244.10" stroke="#ffd9df" stroke-width="0.5" />
<line x1="203.95" y1="356.20" x2="203.95" y2="359.40" stroke="#2e2e2e" stroke-width="0.9" />
<rect x="201.15" y="237.20" width="5.60" height="5.59" fill="#c6c8cb"/>
<rect x="201.15" y="242.79" width="5.60" height="9.04" fill="#c70a28"/>
<rect x="201.15" y="251.84" width="5.60" height="104.36" fill="#134d80"/>
<line x1="201.15" y1="242.79" x2="206.75" y2="242.79" stroke="#ffd9df" stroke-width="0.5" />
<line x1="212.60" y1="356.20" x2="212.60" y2="359.40" stroke="#2e2e2e" stroke-width="0.9" />
<rect x="209.80" y="237.20" width="5.60" height="7.73" fill="#c6c8cb"/>
<rect x="209.80" y="244.94" width="5.60" height="11.30" fill="#c70a28"/>
<rect x="209.80" y="256.24" width="5.60" height="99.96" fill="#134d80"/>
<line x1="209.80" y1="244.94" x2="215.40" y2="244.94" stroke="#ffd9df" stroke-width="0.5" />
<line x1="221.25" y1="356.20" x2="221.25" y2="359.40" stroke="#2e2e2e" stroke-width="0.9" />
<rect x="218.45" y="237.20" width="5.60" height="9.40" fill="#c6c8cb"/>
<rect x="218.45" y="246.60" width="5.60" height="20.82" fill="#c70a28"/>
<rect x="218.45" y="267.43" width="5.60" height="88.77" fill="#134d80"/>
<line x1="218.45" y1="246.60" x2="224.05" y2="246.60" stroke="#ffd9df" stroke-width="0.5" />
<line x1="229.90" y1="356.20" x2="229.90" y2="359.40" stroke="#2e2e2e" stroke-width="0.9" />
<rect x="227.10" y="237.20" width="5.60" height="7.97" fill="#c6c8cb"/>
<rect x="227.10" y="245.17" width="5.60" height="8.92" fill="#c70a28"/>
<rect x="227.10" y="254.10" width="5.60" height="102.10" fill="#134d80"/>
<line x1="227.10" y1="245.17" x2="232.70" y2="245.17" stroke="#ffd9df" stroke-width="0.5" />
<line x1="247.75" y1="356.20" x2="247.75" y2="359.40" stroke="#2e2e2e" stroke-width="0.9" />
<rect x="244.95" y="237.20" width="5.60" height="14.28" fill="#c6c8cb"/>
<rect x="244.95" y="251.48" width="5.60" height="18.33" fill="#c70a28"/>
<rect x="244.95" y="269.81" width="5.60" height="86.39" fill="#134d80"/>
<line x1="244.95" y1="251.48" x2="250.55" y2="251.48" stroke="#ffd9df" stroke-width="0.5" />
<line x1="256.55" y1="356.20" x2="256.55" y2="359.40" stroke="#2e2e2e" stroke-width="0.9" />
<rect x="253.75" y="237.20" width="5.60" height="7.14" fill="#c6c8cb"/>
<rect x="253.75" y="244.34" width="5.60" height="11.90" fill="#c70a28"/>
<rect x="253.75" y="256.24" width="5.60" height="99.96" fill="#134d80"/>
<line x1="253.75" y1="244.34" x2="259.35" y2="244.34" stroke="#ffd9df" stroke-width="0.5" />
<line x1="265.35" y1="356.20" x2="265.35" y2="359.40" stroke="#2e2e2e" stroke-width="0.9" />
<rect x="262.55" y="237.20" width="5.60" height="8.45" fill="#c6c8cb"/>
<rect x="262.55" y="245.65" width="5.60" height="12.26" fill="#c70a28"/>
<rect x="262.55" y="257.91" width="5.60" height="98.29" fill="#134d80"/>
<line x1="262.55" y1="245.65" x2="268.15" y2="245.65" stroke="#ffd9df" stroke-width="0.5" />
<line x1="274.15" y1="356.20" x2="274.15" y2="359.40" stroke="#2e2e2e" stroke-width="0.9" />
<rect x="271.35" y="237.20" width="5.60" height="12.26" fill="#c6c8cb"/>
<rect x="271.35" y="249.46" width="5.60" height="11.90" fill="#c70a28"/>
<rect x="271.35" y="261.36" width="5.60" height="94.84" fill="#134d80"/>
<line x1="271.35" y1="249.46" x2="276.95" y2="249.46" stroke="#ffd9df" stroke-width="0.5" />
<line x1="282.95" y1="356.20" x2="282.95" y2="359.40" stroke="#2e2e2e" stroke-width="0.9" />
<rect x="280.15" y="237.20" width="5.60" height="4.64" fill="#c6c8cb"/>
<rect x="280.15" y="241.84" width="5.60" height="17.97" fill="#c70a28"/>
<rect x="280.15" y="259.81" width="5.60" height="96.39" fill="#134d80"/>
<line x1="280.15" y1="241.84" x2="285.75" y2="241.84" stroke="#ffd9df" stroke-width="0.5" />
<line x1="291.75" y1="356.20" x2="291.75" y2="359.40" stroke="#2e2e2e" stroke-width="0.9" />
<rect x="288.95" y="237.20" width="5.60" height="8.09" fill="#c6c8cb"/>
<rect x="288.95" y="245.29" width="5.60" height="26.42" fill="#c70a28"/>
<rect x="288.95" y="271.71" width="5.60" height="84.49" fill="#134d80"/>
<line x1="288.95" y1="245.29" x2="294.55" y2="245.29" stroke="#ffd9df" stroke-width="0.5" />
<line x1="309.10" y1="356.20" x2="309.10" y2="359.40" stroke="#2e2e2e" stroke-width="0.9" />
<rect x="306.30" y="237.20" width="5.60" height="7.02" fill="#c6c8cb"/>
<rect x="306.30" y="244.22" width="5.60" height="50.22" fill="#c70a28"/>
<rect x="306.30" y="294.44" width="5.60" height="61.76" fill="#134d80"/>
<line x1="306.30" y1="244.22" x2="311.90" y2="244.22" stroke="#ffd9df" stroke-width="0.5" />
<line x1="317.85" y1="356.20" x2="317.85" y2="359.40" stroke="#2e2e2e" stroke-width="0.9" />
<line x1="326.60" y1="356.20" x2="326.60" y2="359.40" stroke="#2e2e2e" stroke-width="0.9" />
<rect x="323.80" y="237.20" width="5.60" height="6.19" fill="#c6c8cb"/>
<rect x="323.80" y="243.39" width="5.60" height="112.81" fill="#c70a28"/>
<rect x="323.80" y="356.20" width="5.60" height="0.00" fill="#134d80"/>
<line x1="323.80" y1="243.39" x2="329.40" y2="243.39" stroke="#ffd9df" stroke-width="0.5" />
<line x1="335.40" y1="356.20" x2="335.40" y2="359.40" stroke="#2e2e2e" stroke-width="0.9" />
<rect x="332.60" y="237.20" width="5.60" height="4.64" fill="#c6c8cb"/>
<rect x="332.60" y="241.84" width="5.60" height="71.99" fill="#c70a28"/>
<rect x="332.60" y="313.84" width="5.60" height="42.36" fill="#134d80"/>
<line x1="332.60" y1="241.84" x2="338.20" y2="241.84" stroke="#ffd9df" stroke-width="0.5" />
<line x1="344.20" y1="356.20" x2="344.20" y2="359.40" stroke="#2e2e2e" stroke-width="0.9" />
<rect x="341.40" y="237.20" width="5.60" height="8.45" fill="#c6c8cb"/>
<rect x="341.40" y="245.65" width="5.60" height="24.39" fill="#c70a28"/>
<rect x="341.40" y="270.04" width="5.60" height="86.16" fill="#134d80"/>
<line x1="341.40" y1="245.65" x2="347.00" y2="245.65" stroke="#ffd9df" stroke-width="0.5" />
<line x1="191.20" y1="356.20" x2="350.00" y2="356.20" stroke="#2e2e2e" stroke-width="1.3" />
<line x1="239.00" y1="233.80" x2="239.00" y2="356.20" stroke="#555" stroke-width="0.9" />
<line x1="301.40" y1="233.80" x2="301.40" y2="356.20" stroke="#555" stroke-width="0.9" />
<text x="206.10" y="232.70" font-size="8.8" text-anchor="start" fill="#3a3a3a" textLength="17" lengthAdjust="spacingAndGlyphs">Total</text>
<text x="259.60" y="232.70" font-size="8.8" text-anchor="start" fill="#3a3a3a" textLength="20" lengthAdjust="spacingAndGlyphs">CD71</text>
<text x="280.10" y="228.90" font-size="6.2" text-anchor="start" fill="#3a3a3a">lo</text>
<text x="316.00" y="232.70" font-size="8.8" text-anchor="start" fill="#3a3a3a" textLength="20" lengthAdjust="spacingAndGlyphs">CD71</text>
<text x="336.50" y="228.90" font-size="6.2" text-anchor="start" fill="#3a3a3a">hi</text>
<text x="194.90" y="367.50" font-size="7" text-anchor="middle" fill="#2a2a2a" stroke="#2a2a2a" stroke-width="0.1" transform="rotate(-45 194.90 365.00)">1</text>
<text x="203.55" y="367.50" font-size="7" text-anchor="middle" fill="#2a2a2a" stroke="#2a2a2a" stroke-width="0.1" transform="rotate(-45 203.55 365.00)">2</text>
<text x="212.20" y="367.50" font-size="7" text-anchor="middle" fill="#2a2a2a" stroke="#2a2a2a" stroke-width="0.1" transform="rotate(-45 212.20 365.00)">3</text>
<text x="220.85" y="367.50" font-size="7" text-anchor="middle" fill="#2a2a2a" stroke="#2a2a2a" stroke-width="0.1" transform="rotate(-45 220.85 365.00)">4</text>
<text x="229.50" y="367.50" font-size="7" text-anchor="middle" fill="#2a2a2a" stroke="#2a2a2a" stroke-width="0.1" transform="rotate(-45 229.50 365.00)">5</text>
<text x="247.35" y="367.50" font-size="7" text-anchor="middle" fill="#2a2a2a" stroke="#2a2a2a" stroke-width="0.1" transform="rotate(-45 247.35 365.00)">6</text>
<text x="256.15" y="367.50" font-size="7" text-anchor="middle" fill="#2a2a2a" stroke="#2a2a2a" stroke-width="0.1" transform="rotate(-45 256.15 365.00)">7</text>
<text x="264.95" y="367.50" font-size="7" text-anchor="middle" fill="#2a2a2a" stroke="#2a2a2a" stroke-width="0.1" transform="rotate(-45 264.95 365.00)">8</text>
<text x="273.75" y="367.50" font-size="7" text-anchor="middle" fill="#2a2a2a" stroke="#2a2a2a" stroke-width="0.1" transform="rotate(-45 273.75 365.00)">9</text>
<text x="281.55" y="367.50" font-size="7" text-anchor="middle" fill="#2a2a2a" stroke="#2a2a2a" stroke-width="0.1" transform="rotate(-45 281.55 365.00)">10</text>
<text x="290.35" y="367.50" font-size="7" text-anchor="middle" fill="#2a2a2a" stroke="#2a2a2a" stroke-width="0.1" transform="rotate(-45 290.35 365.00)">11</text>
<text x="307.70" y="367.50" font-size="7" text-anchor="middle" fill="#2a2a2a" stroke="#2a2a2a" stroke-width="0.1" transform="rotate(-45 307.70 365.00)">12</text>
<text x="316.45" y="367.50" font-size="7" text-anchor="middle" fill="#2a2a2a" stroke="#2a2a2a" stroke-width="0.1" transform="rotate(-45 316.45 365.00)">13</text>
<text x="325.20" y="367.50" font-size="7" text-anchor="middle" fill="#2a2a2a" stroke="#2a2a2a" stroke-width="0.1" transform="rotate(-45 325.20 365.00)">14</text>
<text x="334.00" y="367.50" font-size="7" text-anchor="middle" fill="#2a2a2a" stroke="#2a2a2a" stroke-width="0.1" transform="rotate(-45 334.00 365.00)">15</text>
<text x="342.80" y="367.50" font-size="7" text-anchor="middle" fill="#2a2a2a" stroke="#2a2a2a" stroke-width="0.1" transform="rotate(-45 342.80 365.00)">16</text>
<rect x="212.50" y="377.60" width="5.10" height="5.10" fill="#c70a28"/>
<text x="221.10" y="383.10" font-size="9.2" text-anchor="start" fill="#3a3a3a" textLength="25.3" lengthAdjust="spacingAndGlyphs">CD33+</text>
<rect x="254.20" y="377.60" width="5.10" height="5.10" fill="#134d80"/>
<text x="262.80" y="383.10" font-size="9.2" text-anchor="start" fill="#3a3a3a" textLength="25.8" lengthAdjust="spacingAndGlyphs">CD19+</text>
<rect x="296.10" y="377.60" width="5.10" height="5.10" fill="#c6c8cb"/>
<text x="304.70" y="383.10" font-size="9.2" text-anchor="start" fill="#3a3a3a" textLength="23.2" lengthAdjust="spacingAndGlyphs">others</text>
<text x="162.70" y="296.00" font-size="8.6" text-anchor="middle" fill="#3a3a3a" textLength="64.0" lengthAdjust="spacingAndGlyphs" transform="rotate(-90 162.70 296.00)">Lineage distribution</text>
</svg>
</body></html>
